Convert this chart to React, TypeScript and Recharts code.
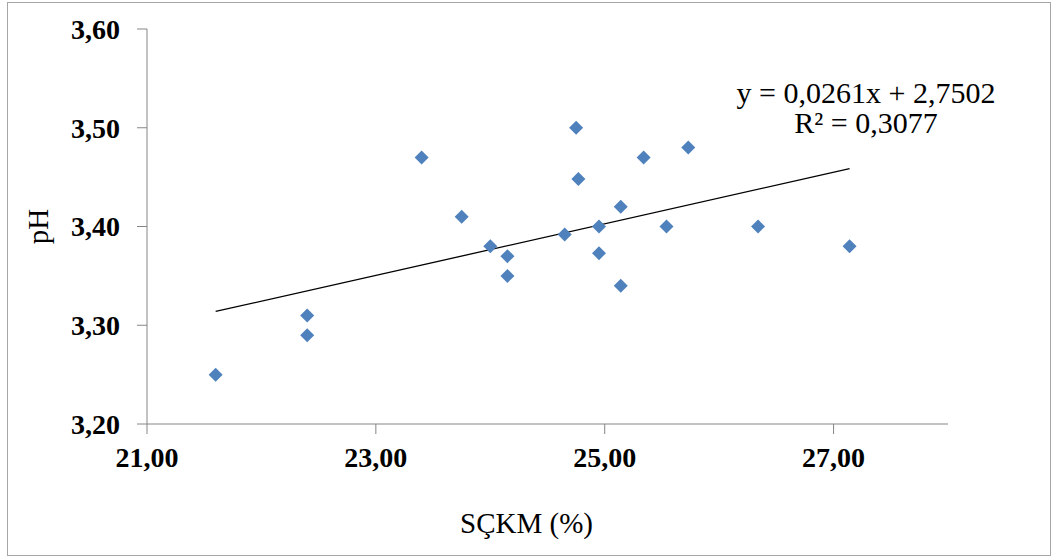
import React from "react";
import {
  ScatterChart,
  Scatter,
  XAxis,
  YAxis,
  ReferenceLine,
  Label,
} from "recharts";

// SÇKM (%) vs pH
const sckmValues = [
  21.6, 22.4, 22.4, 23.4, 23.75, 24.0, 24.15, 24.15, 24.75, 24.77,
  24.65, 24.95, 24.95, 25.14, 25.14, 25.34, 25.73, 25.54, 26.34, 27.14,
];
const phValues = [
  3.25, 3.31, 3.29, 3.47, 3.41, 3.38, 3.37, 3.35, 3.5, 3.448,
  3.392, 3.4, 3.373, 3.42, 3.34, 3.47, 3.48, 3.4, 3.4, 3.38,
];

const xTicks = [21, 23, 25, 27];
const yTicks = [3.2, 3.3, 3.4, 3.5, 3.6];

// linear trendline from the chart's own equation
const trendSlope = 0.0261;
const trendIntercept = 2.7502;
const trendStart = 21.6;
const trendEnd = 27.14;

const data = sckmValues.map((x, i) => ({ x, y: phValues[i] }));

const FONT = '"Times New Roman", "Liberation Serif", serif';
const AXIS = "#868686";
const BLUE = "#4F81BD";

const fmt = (v: number) => v.toFixed(2).replace(".", ",");

const Diamond = (props: any) => {
  const { cx, cy } = props;
  const r = 7;
  return (
    <path
      d={`M${cx},${cy - r}L${cx + r},${cy}L${cx},${cy + r}L${cx - r},${cy}Z`}
      fill={BLUE}
    />
  );
};

export default function App() {
  return (
    <div
      style={{
        position: "absolute",
        left: 7,
        top: 2,
        width: 1044,
        height: 554,
        boxSizing: "border-box",
        border: "1px solid #a6a6a6",
        background: "#fff",
        fontFamily: FONT,
      }}
    >
      <ScatterChart
        width={1042}
        height={552}
        margin={{ top: 26, right: 102, bottom: 0, left: 0 }}
      >
        <XAxis
          type="number"
          dataKey="x"
          domain={[21, 28]}
          ticks={xTicks}
          tickFormatter={fmt}
          height={131}
          tickSize={10}
          tickMargin={13}
          stroke={AXIS}
          tick={{ fill: "#000", fontSize: 28, fontWeight: "bold", fontFamily: FONT }}
          allowDataOverflow
        >
          <Label
            value="SÇKM (%)"
            position="insideBottom"
            offset={22}
            dx={-21}
            style={{ fill: "#000", fontSize: 29, fontFamily: FONT }}
          />
        </XAxis>
        <YAxis
          type="number"
          dataKey="y"
          domain={[3.2, 3.6]}
          ticks={yTicks}
          tickFormatter={fmt}
          width={139}
          tickSize={10}
          tickMargin={17}
          stroke={AXIS}
          tick={{ fill: "#000", fontSize: 28, fontWeight: "bold", fontFamily: FONT }}
          allowDataOverflow
        >
          <Label
            value="pH"
            angle={-90}
            position="insideLeft"
            offset={30}
            style={{ fill: "#000", fontSize: 29, fontFamily: FONT, textAnchor: "middle" }}
          />
        </YAxis>
        <ReferenceLine
          segment={[
            { x: trendStart, y: trendSlope * trendStart + trendIntercept },
            { x: trendEnd, y: trendSlope * trendEnd + trendIntercept },
          ]}
          stroke="#000"
          strokeWidth={1.3}
          ifOverflow="visible"
        />
        <Scatter data={data} shape={Diamond} isAnimationActive={false} />
      </ScatterChart>
      <div
        style={{
          position: "absolute",
          left: 866 - 8 - 170,
          top: 75,
          width: 340,
          textAlign: "center",
          fontSize: 30,
          lineHeight: "30px",
          color: "#000",
          whiteSpace: "nowrap",
        }}
      >
        <div>y = 0,0261x + 2,7502</div>
        <div>R² = 0,3077</div>
      </div>
    </div>
  );
}
